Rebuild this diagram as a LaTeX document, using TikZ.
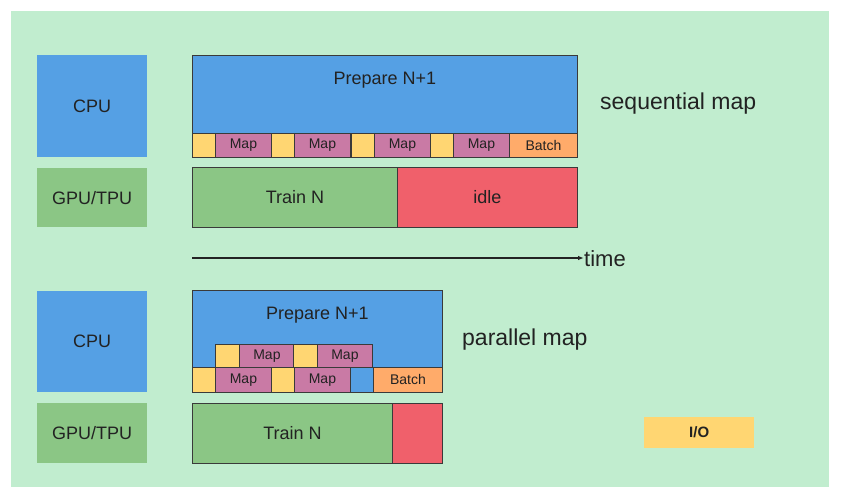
\documentclass[tikz,border=0pt]{standalone}
\usepackage{fontspec}
\setmainfont{Liberation Sans}
\usepackage{tikz}
\usetikzlibrary{arrows.meta, positioning}
\definecolor{bgGreen}{HTML}{C1EDCF}
\definecolor{cpuBlue}{HTML}{55A0E4}
\definecolor{gpuGreen}{HTML}{8BC685}
\definecolor{idleRed}{HTML}{F0606B}
\definecolor{ioYellow}{HTML}{FFD672}
\definecolor{mapPink}{HTML}{C97AA5}
\definecolor{batchOrange}{HTML}{FFAB6A}
\definecolor{edgeGray}{HTML}{3A3A3A}
\definecolor{textDark}{HTML}{222222}

\begin{document}
\begin{tikzpicture}[x=1pt,y=-1pt,
  wh/.style 2 args={minimum width=#1pt,minimum height=#2pt},
  side_box/.style={anchor=north west,inner sep=0pt,text=textDark,font=\fontsize{18}{21}\selectfont},
  time_box/.style={draw=edgeGray,line width=0.9pt,anchor=north west,inner sep=0pt,text=textDark,font=\fontsize{18}{21}\selectfont},
  cell/.style={draw=edgeGray,line width=0.9pt,anchor=north west,inner sep=0pt,text=textDark,font=\fontsize{14}{16}\selectfont},
  note/.style={anchor=west,inner sep=0pt,text=textDark,font=\fontsize{23}{26}\selectfont}]

\useasboundingbox (0,0) rectangle (847,500);
\fill[bgGreen] (11,11) rectangle (829,487);

% sequential map
\node[side_box,fill=cpuBlue,wh={110}{102}] (cpu1) at (37,55) {CPU};
\node[side_box,fill=gpuGreen,wh={110}{59}] (gpu1) at (37,168) {GPU/TPU};

\node[time_box,fill=cpuBlue,wh={385}{102}] (prep1) at (192,55) {};
\node[text=textDark,font=\fontsize{18}{21}\selectfont] at (prep1.north) [yshift=-25pt] {Prepare N+1};
\foreach \i/\x in {1/192,2/271,3/351,4/430}{
  \node[cell,fill=ioYellow,wh={23}{24}] (io1\i) at (\x,133) {};
  \node[cell,fill=mapPink,wh={56}{24}] (map1\i) at (\x+23,133) {Map};
}
\node[cell,fill=batchOrange,wh={68}{24}] (batch1) at (509,133) {Batch};

\node[time_box,fill=gpuGreen,wh={205}{60}] (train1) at (192,167) {Train N};
\node[time_box,fill=idleRed,wh={180}{60}] (idle1) at (397,167) {idle};

\node[note] (seq) at (600,104) {sequential map};

% time axis
\coordinate (t0) at (192,258);
\node[note,font=\fontsize{22}{25}\selectfont] (time) at (584,259) {time};
\draw[edgeGray!60!black,line width=1.1pt,-{Latex[length=6pt,width=4.5pt]}] (t0) -- (time.west |- t0);

% parallel map
\node[side_box,fill=cpuBlue,wh={110}{101}] (cpu2) at (37,291) {CPU};
\node[side_box,fill=gpuGreen,wh={110}{60}] (gpu2) at (37,403) {GPU/TPU};

\node[time_box,fill=cpuBlue,wh={250}{102}] (prep2) at (192,290) {};
\node[text=textDark,font=\fontsize{18}{21}\selectfont] at (prep2.north) [yshift=-25pt] {Prepare N+1};
\foreach \i/\x in {1/215,2/293}{
  \node[cell,fill=ioYellow,wh={24}{23}] (io2u\i) at (\x,344) {};
  \node[cell,fill=mapPink,wh={55}{23}] (map2u\i) at (\x+24,344) {Map};
}
\foreach \i/\x in {1/192,2/271}{
  \node[cell,fill=ioYellow,wh={23}{25}] (io2\i) at (\x,367) {};
  \node[cell,fill=mapPink,wh={56}{25}] (map2\i) at (\x+23,367) {Map};
}
\node[cell,fill=cpuBlue,wh={23}{25}] (gap2) at (350,367) {};
\node[cell,fill=batchOrange,wh={69}{25}] (batch2) at (373,367) {Batch};

\node[time_box,fill=gpuGreen,wh={200}{60}] (train2) at (192,403) {Train N};
\node[time_box,fill=idleRed,wh={50}{60}] (idle2) at (392,403) {};

\node[note] (par) at (462,340) {parallel map};

\node[side_box,fill=ioYellow,wh={110}{31},font=\bfseries\fontsize{15}{17}\selectfont] (io) at (644,417) {I/O};

\end{tikzpicture}
\end{document}
